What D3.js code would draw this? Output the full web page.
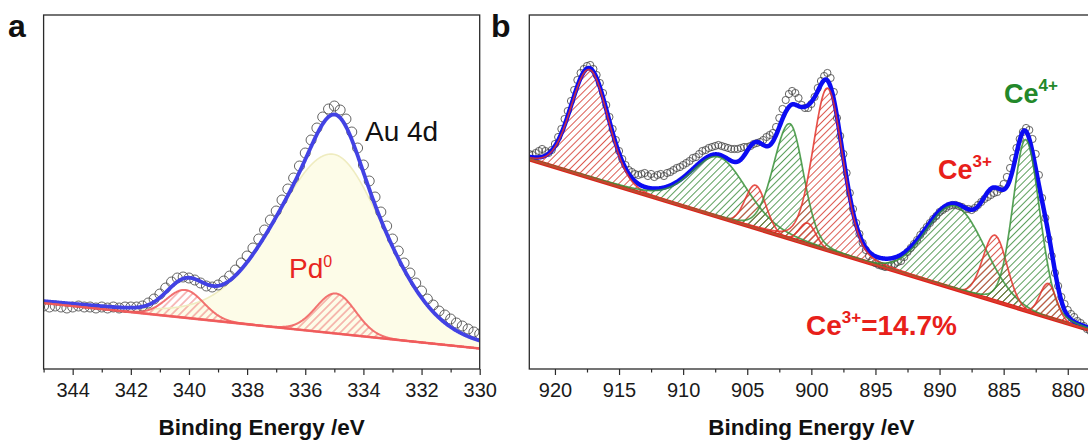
<!DOCTYPE html>
<html>
<head>
<meta charset="utf-8">
<script src="https://cdn.jsdelivr.net/npm/d3@7"></script>
<style>
  body { margin: 0; background: #fff; }
  svg text { font-family: "Liberation Sans", Arial, sans-serif; }
</style>
</head>
<body>
<div id="chart"></div>
<script>
// ---------------- data : panel a (Au 4d / Pd 3d) ----------------
var eStartA = 345, eStepA = 0.2;
var countsA = [63,62,63,62,61,62,63,62,62,61, 62,61,62,61,62,62,62,63,66,70,
               75,81,87,91,92,91,89,86,83,82, 84,88,93,99,106,113,121,130,139,149,
               158,169,180,191,203,216,229,241,252,260, 263,259,250,237,221,204,188,172,157,143,
               130,118,106,96,86,78,70,64,58,54, 50,46,43,40,37,35];
var baselineA = [[345, 66], [330, 20.5]];
var peakNamesA   = ["Au 4d5/2", "Pd 3d3/2", "Pd 3d5/2"];
var peakCentersA = [335.05, 340.13, 334.95];
var peakHeightsA = [179, 27.8, 40];
var peakWidthLA  = [4.7, 1.5, 1.6];
var peakWidthRA  = [4.2, 1.5, 1.6];
var peakEtaA     = [0.2, 0, 0];
var ticksA = [344, 342, 340, 338, 336, 334, 332, 330];
var minorA = [345, 343, 341, 339, 337, 335, 333, 331];

// ---------------- data : panel b (Ce 3d) ----------------
var eStartB = 922, eStepB = 0.25;
var countsB = [215,214,216,218,220,218,216,219,225,232,240,250,258,268,279,289,296,300,303,304,
               300,294,286,276,264,252,240,229,218,210,204,199,197,195,194,195,196,193,195,192,
               194,195,193,196,197,199,201,202,204,206,208,211,212,215,218,219,221,222,223,224,
               223,222,221,220,220,220,221,222,222,223,225,226,227,229,232,234,236,242,251,260,
               269,275,278,276,271,264,261,261,265,272,281,288,293,296,291,277,251,233,215,196,
               176,160,146,135,126,119,113,109,106,104,103,102,103,104,105,107,108,112,117,121,
               125,129,134,138,142,146,150,153,157,159,161,163,164,164,163,162,160,160,159,161,
               164,167,170,172,174,176,177,180,185,192,201,211,221,230,237,241,239,230,215,194,
               171,151,130,113,96,83,72,65,59,55,52,48,46,43,40,38,36];
var baselineB = [[922, 209.7], [878, 37.7]];
var peakStateB   = ["Ce3+", "Ce4+", "Ce3+", "Ce4+", "Ce3+", "Ce3+", "Ce4+", "Ce3+", "Ce4+", "Ce3+"];
var peakCentersB = [917.3, 907.2, 904.35, 901.67, 900.29, 898.73, 888.74, 885.68, 883.28, 881.52];
var peakHeightsB = [108, 60, 43, 115, 21, 162, 83, 66, 171, 34];
var peakWidthLB  = [3.4, 5.2, 1.9, 3.0, 1.5, 2.7, 5.4, 2.2, 2.35, 1.5];
var peakWidthRB  = [3.4, 5.2, 1.9, 2.5, 1.5, 2.8, 5.4, 2.2, 2.6, 1.5];
var peakEtaB     = [0.1, 0.3, 0, 0.15, 0, 0.2, 0, 0, 0.15, 0];
var ticksB = [920, 915, 910, 905, 900, 895, 890, 885, 880];
var minorB = [917.5, 912.5, 907.5, 902.5, 897.5, 892.5, 887.5, 882.5];

// ---------------- setup ----------------
var width = 1088, height = 441;
var plotTop = 15, plotBottom = 369;

var svg = d3.select("#chart").append("svg")
    .attr("width", width)
    .attr("height", height);
var defs = svg.append("defs");

function hatch(id, color, gap, sw) {
  defs.append("pattern")
      .attr("id", id)
      .attr("patternUnits", "userSpaceOnUse")
      .attr("width", gap).attr("height", gap)
      .attr("patternTransform", "rotate(45)")
    .append("line")
      .attr("x1", gap / 2).attr("y1", 0)
      .attr("x2", gap / 2).attr("y2", gap)
      .attr("stroke", color)
      .attr("stroke-width", sw);
}
hatch("hatchPd", "#ee7070", 5.5, 0.9);
hatch("hatchRed", "#d84a40", 5, 0.9);
hatch("hatchGreen", "#4a944a", 5, 0.9);

// pseudo-Voigt line shape, asymmetric widths (left = higher binding energy)
function pv(e, c, h, wl, wr, eta) {
  var w = e > c ? wl : wr, x = 2 * (e - c) / w;
  return h * (eta / (1 + x * x) + (1 - eta) * Math.exp(-Math.LN2 * x * x));
}

var y = d3.scaleLinear().domain([0, 354]).range([plotBottom, plotTop]);

function drawPanel(o) {
  var g = svg.append("g");
  var x = o.x;
  var base = d3.scaleLinear()
      .domain(o.baseline.map(function(d) { return d[0]; }))
      .range(o.baseline.map(function(d) { return d[1]; }));
  var e0 = x.domain()[0], e1 = x.domain()[1];
  var grid = d3.range(0, 1201).map(function(k) { return e0 + k * (e1 - e0) / 1200; });

  var clipId = "clip" + o.id;
  defs.append("clipPath").attr("id", clipId)
    .append("rect")
      .attr("x", x.range()[0]).attr("y", plotTop)
      .attr("width", x.range()[1] - x.range()[0]).attr("height", plotBottom - plotTop);
  var plot = g.append("g").attr("clip-path", "url(#" + clipId + ")");

  var comps = o.centers.map(function(c, i) {
    return grid.map(function(e) {
      return { e: e, b: base(e), v: pv(e, c, o.heights[i], o.wl[i], o.wr[i], o.eta[i]) };
    });
  });
  var fit = grid.map(function(e, k) {
    var s = base(e);
    comps.forEach(function(cp) { s += cp[k].v; });
    return { e: e, v: s };
  });

  var area = d3.area()
      .x(function(d) { return x(d.e); })
      .y0(function(d) { return y(d.b); })
      .y1(function(d) { return y(d.b + d.v); });
  var edge = d3.line()
      .x(function(d) { return x(d.e); })
      .y(function(d) { return y(d.b + d.v); });

  // component fills
  comps.forEach(function(cp, i) {
    plot.append("path").attr("d", area(cp))
        .attr("fill", o.fill[i]).attr("stroke", "none");
  });
  if (o.preOutline) {
    comps.forEach(function(cp, i) {
      if (o.preOutline[i]) plot.append("path").attr("d", edge(cp))
          .attr("fill", "none").attr("stroke", o.preOutline[i]).attr("stroke-width", 1.6);
    });
  }

  // background line
  plot.append("path")
      .attr("d", d3.line()(o.baseline.map(function(d) { return [x(d[0]), y(d[1])]; })))
      .attr("stroke", o.baseColor).attr("stroke-width", o.baseWidth).attr("fill", "none");

  // measured points
  plot.append("g").selectAll("circle")
    .data(o.counts)
    .enter().append("circle")
      .attr("cx", function(d, i) { return x(o.eStart - i * o.eStep); })
      .attr("cy", function(d) { return y(d); })
      .attr("r", o.r)
      .attr("fill", "none")
      .attr("stroke", "#4a4a4a")
      .attr("stroke-opacity", 0.85)
      .attr("stroke-width", 1);

  // envelope
  plot.append("path")
      .attr("d", d3.line().x(function(d) { return x(d.e); }).y(function(d) { return y(d.v); })(fit))
      .attr("fill", "none").attr("stroke", o.fitColor).attr("stroke-width", o.fitWidth);

  // component outlines
  comps.forEach(function(cp, i) {
    if (!o.line[i]) return;
    plot.append("path").attr("d", edge(cp))
        .attr("fill", "none").attr("stroke", o.line[i])
        .attr("stroke-opacity", 0.85).attr("stroke-width", o.lineWidth);
  });

  // frame
  g.append("rect")
      .attr("x", x.range()[0]).attr("y", plotTop)
      .attr("width", x.range()[1] - x.range()[0]).attr("height", plotBottom - plotTop)
      .attr("fill", "none").attr("stroke", "#2a2a2a").attr("stroke-width", 1.3);

  // axes
  var ax = g.append("g").attr("transform", "translate(0," + plotBottom + ")")
      .call(d3.axisBottom(x).tickValues(o.ticks).tickSize(6).tickPadding(8)
              .tickFormat(d3.format("d")));
  ax.select(".domain").remove();
  ax.selectAll("line").attr("stroke", "#2a2a2a").attr("stroke-width", 1.2);
  ax.selectAll("text").attr("font-size", 20).attr("fill", "#1a1a1a")
      .attr("font-family", "'Liberation Sans', Arial, sans-serif");
  var mx = g.append("g").attr("transform", "translate(0," + plotBottom + ")")
      .call(d3.axisBottom(x).tickValues(o.minor).tickSize(3.5).tickFormat(""));
  mx.select(".domain").remove();
  mx.selectAll("line").attr("stroke", "#2a2a2a").attr("stroke-width", 1.2);

  g.append("text")
      .attr("x", (x.range()[0] + x.range()[1]) / 2)
      .attr("y", 435)
      .attr("text-anchor", "middle")
      .attr("font-size", 22.5)
      .attr("font-weight", "bold")
      .attr("fill", "#111")
      .text("Binding Energy /eV");
  return g;
}

// ---------------- panel a ----------------
var xA = d3.scaleLinear().domain([345, 330]).range([43.6, 479.7]);
drawPanel({
  id: "A", x: xA, baseline: baselineA,
  centers: peakCentersA, heights: peakHeightsA, wl: peakWidthLA, wr: peakWidthRA, eta: peakEtaA,
  fill: ["#fdfce8", "url(#hatchPd)", "url(#hatchPd)"],
  preOutline: ["#efecc0", null, null],
  line: [null, "#f05a5a", "#f05a5a"], lineWidth: 2,
  baseColor: "#f06868", baseWidth: 2.6,
  counts: countsA, eStart: eStartA, eStep: eStepA, r: 5,
  fitColor: "#4242e4", fitWidth: 3.8,
  ticks: ticksA, minor: minorA
});

// ---------------- panel b ----------------
var xB = d3.scaleLinear().domain([922, 878]).range([529.3, 1093.4]);
var red = "#e3342c", green = "#3a923a";
drawPanel({
  id: "B", x: xB, baseline: baselineB,
  centers: peakCentersB, heights: peakHeightsB, wl: peakWidthLB, wr: peakWidthRB, eta: peakEtaB,
  fill: peakStateB.map(function(s) { return s === "Ce3+" ? "url(#hatchRed)" : "url(#hatchGreen)"; }),
  line: peakStateB.map(function(s) { return s === "Ce3+" ? red : green; }), lineWidth: 1.7,
  baseColor: "#e0201a", baseWidth: 4.2,
  counts: countsB, eStart: eStartB, eStep: eStepB, r: 3.6,
  fitColor: "#0c0cf2", fitWidth: 4.5,
  ticks: ticksB, minor: minorB
});

// ---------------- labels ----------------
function label(xp, yp, parts, size, color, bold) {
  var t = svg.append("text")
      .attr("x", xp).attr("y", yp)
      .attr("font-size", size)
      .attr("fill", color)
      .attr("font-weight", bold ? "bold" : "normal");
  parts.forEach(function(p) {
    var s = t.append("tspan").text(p.t);
    if (p.sup) s.attr("font-size", p.sup).attr("dy", -p.rise);
    if (p.down) s.attr("dy", p.down);
  });
  return t;
}

label(8, 37, [{ t: "a" }], 32, "#111", true);
label(491, 37, [{ t: "b" }], 32, "#111", true);

label(365, 141, [{ t: "Au 4d" }], 28, "#111", false);
label(289, 277.5, [{ t: "Pd" }, { t: "0", sup: 16, rise: 11 }], 28, "#e8261f", false);

label(1004, 103, [{ t: "Ce" }, { t: "4+", sup: 17, rise: 12 }], 27, "#23882a", true);
label(938, 179, [{ t: "Ce" }, { t: "3+", sup: 17, rise: 12 }], 27, "#e8201a", true);
label(806, 335, [{ t: "Ce" }, { t: "3+", sup: 17, rise: 12 }, { t: "=14.7%", down: 12 }], 28, "#e8201a", true);
</script>
</body>
</html>
